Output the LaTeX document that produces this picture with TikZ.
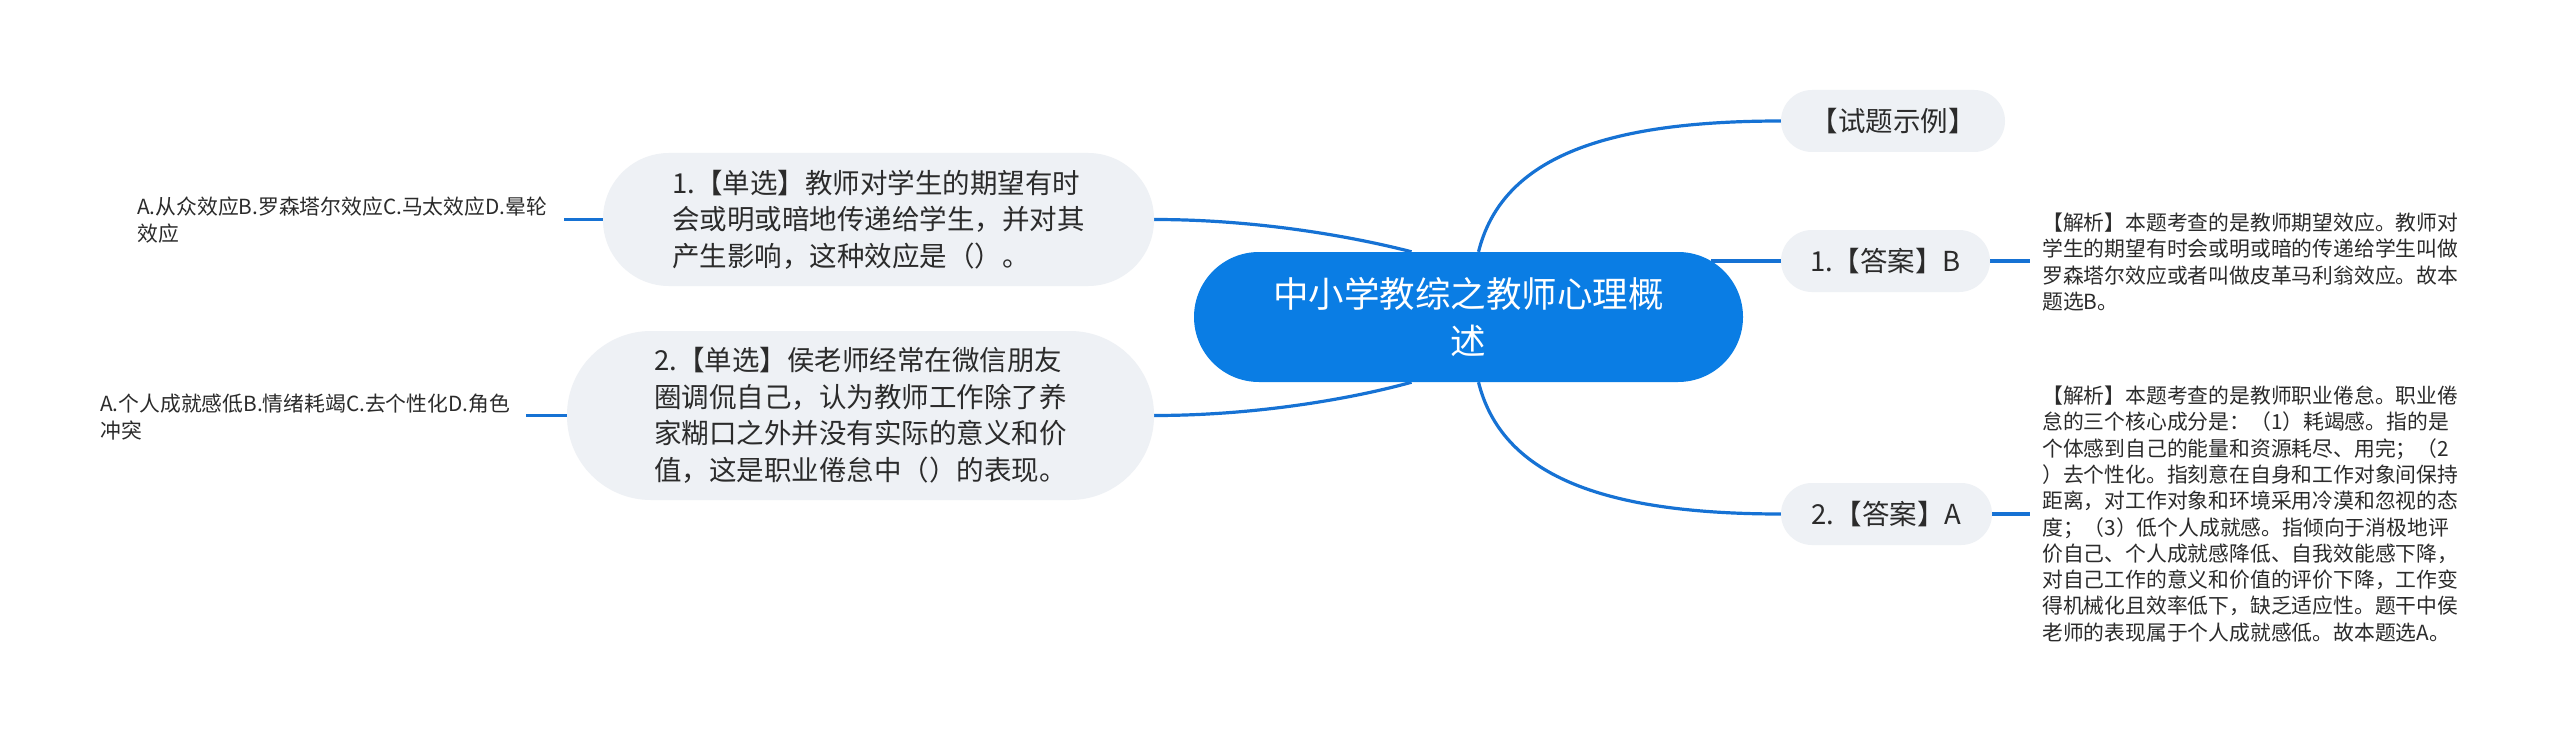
\documentclass[tikz,border=0pt]{standalone}
\usepackage{fontspec}
\setmainfont{Noto Sans CJK SC}
\usetikzlibrary{backgrounds}
\definecolor{rootblue}{HTML}{0A7DE4}
\definecolor{linkblue}{HTML}{1672D4}
\definecolor{pillgray}{HTML}{EEF1F5}
\definecolor{ink}{HTML}{2B2B2B}
\begin{document}
\begin{tikzpicture}[x=1pt,y=-1pt,
  rootnode/.style={fill=rootblue, text=white, rounded corners=65pt, minimum width=549pt, minimum height=130pt, align=center, inner sep=0pt, font=\fontsize{35.5pt}{47pt}\selectfont},
  pill/.style={fill=pillgray, text=ink, inner sep=0pt, align=left, font=\fontsize{27.5pt}{36.5pt}\selectfont},
  plain/.style={text=ink, inner sep=0pt, align=left, anchor=west, font=\fontsize{20.8pt}{26.3pt}\selectfont},
  link/.style={draw=linkblue, line width=3.2pt}]
\useasboundingbox (0,0) rectangle (2560,749);

\node[rootnode] (root) at (1468.5,317) {中小学教综之教师心理概\\述};

\node[pill, minimum width=551pt, minimum height=133pt, rounded corners=66pt] (q1) at (878.5,219.5)
  {1.【单选】教师对学生的期望有时\\会或明或暗地传递给学生，并对其\\产生影响，这种效应是（）。};
\node[pill, minimum width=587pt, minimum height=169pt, rounded corners=84pt] (q2) at (860.5,415.5)
  {2.【单选】侯老师经常在微信朋友\\圈调侃自己，认为教师工作除了养\\家糊口之外并没有实际的意义和价\\值，这是职业倦怠中（）的表现。};

\node[plain] (opt1) at (137,220) {A.从众效应B.罗森塔尔效应C.马太效应D.晕轮\\效应};
\node[plain] (opt2) at (100,417) {A.个人成就感低B.情绪耗竭C.去个性化D.角色\\冲突};

\node[pill, minimum width=224pt, minimum height=62pt, rounded corners=31pt] (ts) at (1893,121) {【试题示例】};
\node[pill, minimum width=209pt, minimum height=62pt, rounded corners=31pt] (ans1) at (1885.5,261) {1.【答案】B};
\node[pill, minimum width=211pt, minimum height=62pt, rounded corners=31pt] (ans2) at (1886.5,514) {2.【答案】A};

\node[plain] (exp1) at (2042,262) {【解析】本题考查的是教师期望效应。教师对\\学生的期望有时会或明或暗的传递给学生叫做\\罗森塔尔效应或者叫做皮革马利翁效应。故本\\题选B。};
\node[plain] (exp2) at (2042,514) {【解析】本题考查的是教师职业倦怠。职业倦\\怠的三个核心成分是：（1）耗竭感。指的是\\个体感到自己的能量和资源耗尽、用完；（2\\）去个性化。指刻意在自身和工作对象间保持\\距离，对工作对象和环境采用冷漠和忽视的态\\度；（3）低个人成就感。指倾向于消极地评\\价自己、个人成就感降低、自我效能感下降，\\对自己工作的意义和价值的评价下降，工作变\\得机械化且效率低下，缺乏适应性。题干中侯\\老师的表现属于个人成就感低。故本题选A。};

\begin{scope}[on background layer]
\fill[white] (0,0) rectangle (2560,749);
\draw[link] ([xshift=-57pt]root.north) .. controls +(-50,-13) and +(110,0) .. (q1.east);
\draw[link] ([xshift=-57pt]root.south) .. controls +(-50,14) and +(110,0) .. (q2.east);
\draw[link] ([xshift=10pt]root.north) .. controls +(23,-92) and +(-181,0) .. (ts.west);
\draw[link] ([xshift=10pt]root.south) .. controls +(23,92) and +(-181,0) .. (ans2.west);
\draw[link] ([xshift=-32pt]root.east |- ans1.west) -- (ans1.west);
\draw[link] ([xshift=17pt]opt1.east |- q1.west) -- (q1.west);
\draw[link] ([xshift=16pt]opt2.east |- q2.west) -- (q2.west);
\draw[link] (ans1.east) -- ([xshift=-12pt]exp1.west |- ans1.east);
\draw[link] (ans2.east) -- ([xshift=-12pt]exp2.west |- ans2.east);
\end{scope}
\end{tikzpicture}
\end{document}
